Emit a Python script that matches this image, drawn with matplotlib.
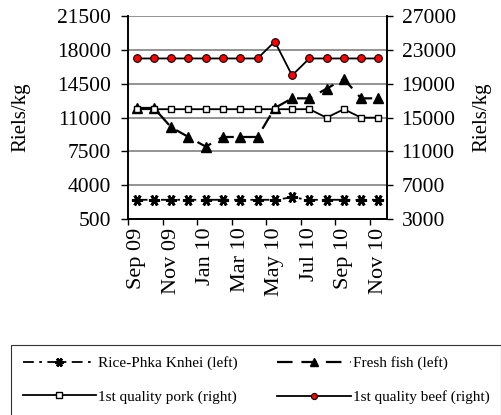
import matplotlib.pyplot as plt
import numpy as np

# -----------------------------
# Data
# -----------------------------
months = ["Sep 09", "Oct 09", "Nov 09", "Dec 09", "Jan 10", "Feb 10", "Mar 10",
          "Apr 10", "May 10", "Jun 10", "Jul 10", "Aug 10", "Sep 10", "Oct 10", "Nov 10"]

rice = [2500, 2500, 2500, 2500, 2500, 2500, 2500, 2500, 2500, 2750, 2500, 2500, 2500, 2500, 2500]
fish = [12000, 12000, 10000, 9000, 8000, 9000, 9000, 9000, 12000, 13000, 13000, 14000, 15000, 13000, 13000]
pork = [16000, 16000, 16000, 16000, 16000, 16000, 16000, 16000, 16000, 16000, 16000, 15000, 16000, 15000, 15000]
beef = [22000, 22000, 22000, 22000, 22000, 22000, 22000, 22000, 24000, 20000, 22000, 22000, 22000, 22000, 22000]

left_ticks = [500, 4000, 7500, 11000, 14500, 18000, 21500]
right_ticks = [3000, 7000, 11000, 15000, 19000, 23000, 27000]

SERIF = ["Liberation Serif", "DejaVu Serif"]


def main():
    plt.rcParams["font.family"] = SERIF
    fig = plt.figure(figsize=(5.02, 4.15), dpi=100)
    ax = fig.add_axes([0.255, 0.472, 0.516, 0.489])
    ax2 = ax.twinx()

    x = np.arange(len(months))

    # left axis series
    l1, = ax.plot(x, rice, color="black", lw=1.3, dashes=(6, 3, 1.5, 3),
                  marker=(6, 2, 90), ms=8, mew=2.0, mec="black", zorder=3)
    l2, = ax.plot(x, fish, color="black", lw=1.6, dashes=(7, 4),
                  marker="^", ms=7, mfc="black", mec="black", zorder=3)

    # right axis series
    l3, = ax2.plot(x, pork, color="black", lw=1.3, marker="s", ms=5,
                   mfc="white", mec="black", mew=1.0, zorder=3)
    l4, = ax2.plot(x, beef, color="black", lw=1.3, marker="o", ms=5.5,
                   mfc="#FF0000", mec="black", mew=0.8, zorder=3)

    ax.set_xlim(-0.5, len(months) - 0.5)
    ax.set_ylim(left_ticks[0], left_ticks[-1])
    ax2.set_ylim(right_ticks[0], right_ticks[-1])
    ax.set_yticks(left_ticks)
    ax2.set_yticks(right_ticks)
    ax.yaxis.grid(True, color="#808080", lw=1.2)
    ax.set_axisbelow(True)

    # category axis: labels on every other month, tick marks between
    ax.set_xticks(x[::2] - 0.5, minor=False)
    ax.set_xticklabels([])
    ax.set_xticks(x[::2], minor=True)
    ax.set_xticklabels(months[::2], minor=True, rotation=90, fontsize=16)
    ax.tick_params(axis="x", which="minor", length=0, pad=6)
    ax.tick_params(axis="x", which="major", length=4.5, width=1, direction="out")
    ax.tick_params(axis="y", length=5, width=1, labelsize=15.5, pad=7)
    ax2.tick_params(axis="y", length=4.5, width=1, labelsize=15.5, pad=6)

    for a in (ax, ax2):
        a.spines["top"].set_visible(False)
        for s in ("left", "right", "bottom"):
            a.spines[s].set_linewidth(1.2)

    ax.set_ylabel("Riels/kg", fontsize=15, labelpad=19)
    ax2.set_ylabel("Riels/kg", fontsize=15, labelpad=12)

    # row-wise order in a 2-column legend (box runs off the right edge)
    leg = fig.legend([l1, l3, l2, l4],
                     ["Rice-Phka Knhei (left)", "1st quality pork (right)",
                      "Fresh fish (left)", "1st quality beef (right)"],
                     loc="upper left", bbox_to_anchor=(0.022, 0.169), ncol=2,
                     fontsize=11, fancybox=False, edgecolor="black",
                     handlelength=4.8, handletextpad=0.15, columnspacing=2.6,
                     labelspacing=1.3, borderpad=0.75, markerscale=0.8,
                     borderaxespad=0)
    leg.get_frame().set_linewidth(0.8)

    fig.savefig("out.png", dpi=100)
    plt.close(fig)


if __name__ == "__main__":
    main()
